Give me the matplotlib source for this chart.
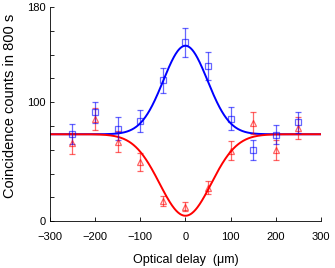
import numpy as np
import matplotlib
matplotlib.use("Agg")
import matplotlib.pyplot as plt

# measured coincidence counts vs optical delay
delay = [-250, -200, -150, -100, -50, 0, 50, 100, 150, 200, 250]
blue_counts = [73.0, 91.3, 77.8, 84.2, 118.2, 150.2, 130.3, 86.2, 59.8, 72.5, 83.1]
blue_err = [8.4, 9.1, 9.4, 9.1, 10.8, 12.2, 11.5, 9.4, 8.1, 7.9, 8.8]
red_counts = [65.4, 85.6, 66.8, 49.4, 17.1, 12.1, 28.1, 59.0, 82.3, 59.8, 78.1]
red_err = [8.7, 9.1, 8.8, 7.6, 4.1, 3.7, 5.2, 8.0, 9.0, 8.4, 9.1]

# gaussian fit parameters (baseline, amplitude, width in um)
blue_fit = (73.0, 74.4, 49.0)
red_fit = (73.0, -68.5, 57.0)


def gauss(x, base, amp, sigma):
    """Gaussian dip/peak on a flat background"""
    return base + amp * np.exp(-x ** 2 / (2 * sigma ** 2))


def run():
    plt.rcParams['font.family'] = ['Liberation Sans', 'DejaVu Sans']
    fig = plt.figure(figsize=(3.35, 2.68), dpi=100)
    ax = fig.add_axes([0.149, 0.175, 0.809, 0.799])

    x_fit = np.linspace(-300, 300, 600)
    ax.plot(x_fit, gauss(x_fit, *blue_fit), color='#0000ff', lw=1.4, zorder=2)
    ax.plot(x_fit, gauss(x_fit, *red_fit), color='#ff0000', lw=1.4, zorder=2)

    ax.errorbar(delay, red_counts, yerr=red_err, fmt='^', color='#ff0000',
                mfc='none', ms=4.5, mew=0.9, elinewidth=0.9, capsize=2,
                alpha=0.6, zorder=3)
    ax.errorbar(delay, blue_counts, yerr=blue_err, fmt='s', color='#0000ff',
                mfc='none', ms=3.8, mew=0.9, elinewidth=0.9, capsize=2,
                alpha=0.6, zorder=3)

    ax.set_xlim(-300, 300)
    ax.set_ylim(0, 180)
    ax.set_xticks([-300, -200, -100, 0, 100, 200, 300])
    ax.set_yticks([0, 100, 180])
    ax.set_yticks(np.arange(0, 181, 20), minor=True)
    ax.tick_params(axis='both', direction='in', labelsize=8, length=3,
                   width=0.6)
    ax.tick_params(axis='x', pad=8)
    ax.tick_params(axis='y', pad=3)
    ax.tick_params(axis='y', which='minor', direction='in', length=3, width=0.6)
    for side in ['top', 'right']:
        ax.spines[side].set_visible(False)
    for side in ['left', 'bottom']:
        ax.spines[side].set_linewidth(0.6)

    ax.set_xlabel('Optical delay  (\u03bcm)', fontsize=9)
    ax.set_ylabel('Coincidence counts in 800 s', fontsize=10.5)
    ax.xaxis.set_label_coords(0.5, -0.155)
    ax.yaxis.set_label_coords(-0.122, 0.54)

    fig.savefig('out.png', dpi=100)


if __name__ == "__main__":
    run()
